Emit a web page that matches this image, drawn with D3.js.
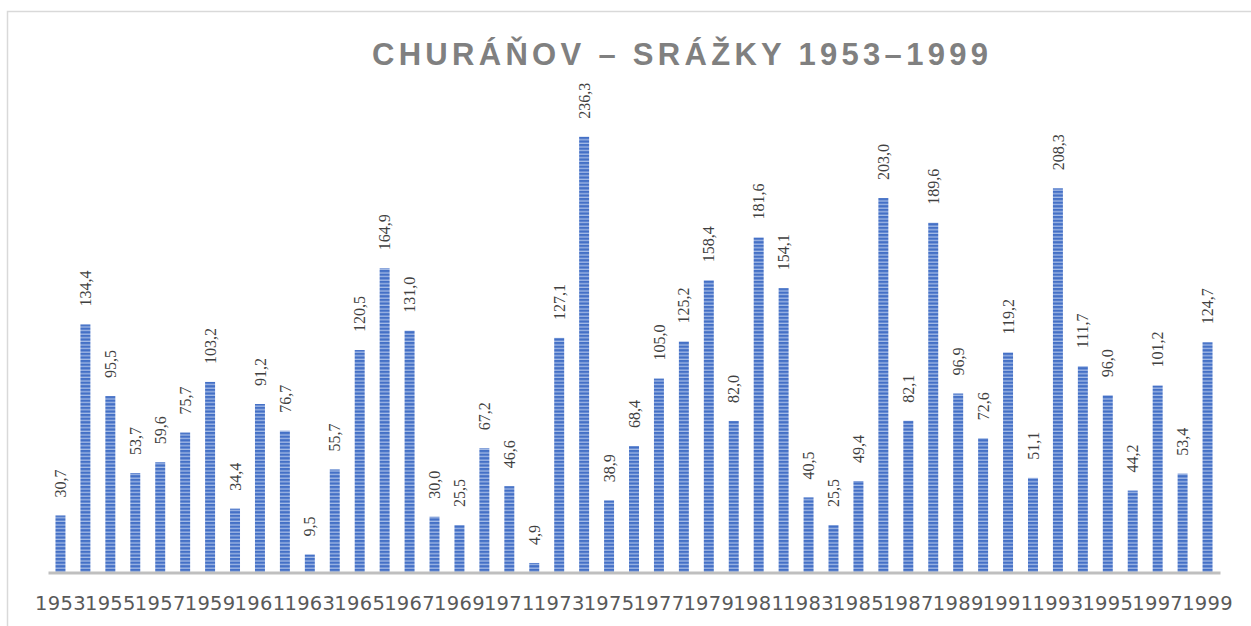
<!DOCTYPE html>
<html>
<head>
<meta charset="utf-8">
<script src="https://cdn.jsdelivr.net/npm/d3@7"></script>
<style>
  body { margin: 0; background: #fff; }
  svg { display: block; }
</style>
</head>
<body>
<svg id="chart"></svg>
<script>
var width = 1251;
var height = 626;

// data
var years = [1953, 1954, 1955, 1956, 1957, 1958, 1959, 1960, 1961, 1962,
             1963, 1964, 1965, 1966, 1967, 1968, 1969, 1970, 1971, 1972,
             1973, 1974, 1975, 1976, 1977, 1978, 1979, 1980, 1981, 1982,
             1983, 1984, 1985, 1986, 1987, 1988, 1989, 1990, 1991, 1992,
             1993, 1994, 1995, 1996, 1997, 1998, 1999];
var srazky = [30.7, 134.4, 95.5, 53.7, 59.6, 75.7, 103.2, 34.4, 91.2, 76.7,
              9.5, 55.7, 120.5, 164.9, 131.0, 30.0, 25.5, 67.2, 46.6, 4.9,
              127.1, 236.3, 38.9, 68.4, 105.0, 125.2, 158.4, 82.0, 181.6, 154.1,
              40.5, 25.5, 49.4, 203.0, 82.1, 189.6, 96.9, 72.6, 119.2, 51.1,
              208.3, 111.7, 96.0, 44.2, 101.2, 53.4, 124.7];
var tickYears = years.filter(function(y, i) { return i % 2 == 0; });
var title = "CHURÁŇOV – SRÁŽKY 1953–1999";

var data = years.map(function(y, i) { return { year: y, value: srazky[i] }; });

var svg = d3.select("#chart")
    .attr("width", width)
    .attr("height", height);

// chart frame (right and bottom edges fall outside the picture)
svg.append("rect")
    .attr("x", 7.5).attr("y", 11.5)
    .attr("width", 1300).attr("height", 700)
    .attr("fill", "none")
    .attr("stroke", "#d9d9d9")
    .attr("stroke-width", 1.5);

// striped fill like the excel "narrow horizontal" pattern
var defs = svg.append("defs");
var pat = defs.append("pattern")
    .attr("id", "stripes")
    .attr("patternUnits", "userSpaceOnUse")
    .attr("width", 10).attr("height", 3.6);
pat.append("rect").attr("width", 10).attr("height", 3.6).attr("fill", "#4470c6");
pat.append("rect").attr("y", 2.3).attr("width", 10).attr("height", 1.3).attr("fill", "#a4bbe6");

var baseY = 572;

var x = d3.scaleBand()
    .domain(years)
    .range([48, 1220])
    .paddingInner(0.6)
    .paddingOuter(0.3);

var y = d3.scaleLinear()
    .domain([0, 250])
    .range([baseY, baseY - 460.5]);

// title
svg.append("text")
    .attr("x", 372)
    .attr("y", 65)
    .attr("textLength", 616)
    .attr("lengthAdjust", "spacing")
    .attr("font-family", "Liberation Sans, Arial, sans-serif")
    .attr("font-weight", "bold")
    .attr("font-size", "31px")
    .attr("fill", "#808080")
    .text(title);

// bars
svg.selectAll("rect.bar")
    .data(data)
    .enter()
    .append("rect")
        .attr("class", "bar")
        .attr("x", d => x(d.year))
        .attr("y", d => y(d.value))
        .attr("width", x.bandwidth())
        .attr("height", d => y(0) - y(d.value))
        .attr("fill", "url(#stripes)");

// value labels, rotated
svg.selectAll("text.val")
    .data(data)
    .enter()
    .append("text")
        .attr("class", "val")
        .attr("transform", d => "translate(" + (x(d.year) + x.bandwidth() / 2) + "," + (y(d.value) - 18) + ") rotate(-90)")
        .attr("dy", "0.35em")
        .attr("font-family", "Liberation Serif, Times New Roman, serif")
        .attr("font-size", "16px")
        .attr("fill", "#404040")
        .text(d => d3.format(".1f")(d.value).replace(".", ","));

// x axis
var xAxis = d3.axisBottom(x)
    .tickValues(tickYears)
    .tickSize(0)
    .tickSizeOuter(0)
    .tickPadding(24);

var gx = svg.append("g")
    .attr("transform", "translate(0," + (baseY + 0.5) + ")")
    .call(xAxis);

gx.select(".domain")
    .attr("stroke", "#bfbfbf")
    .attr("stroke-width", 3);

gx.selectAll("text")
    .attr("font-family", "DejaVu Sans, sans-serif")
    .attr("font-size", "19.5px")
    .attr("letter-spacing", "0.3px")
    .attr("fill", "#595959");
</script>
</body>
</html>
